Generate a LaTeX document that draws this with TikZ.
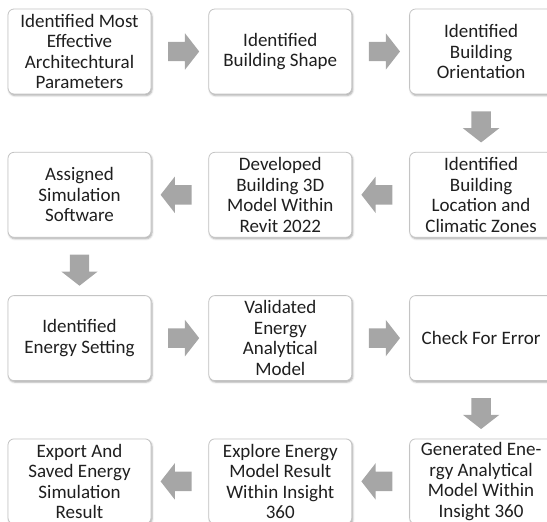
\documentclass[tikz,border=0pt]{standalone}
\usepackage{fontspec}
\setmainfont{Carlito}
\usetikzlibrary{positioning,calc,shapes.arrows,shadows.blur}
\definecolor{boxline}{HTML}{C4C4C4}
\definecolor{arrowgray}{HTML}{A6A6A6}
\definecolor{txt}{HTML}{1F1F1F}

\begin{document}
\begin{tikzpicture}[font=\fontsize{19}{20.6}\selectfont,
  stepbox/.style={draw=boxline,fill=white,rounded corners=6pt,align=center,text=txt,
    minimum width=143pt,minimum height=85pt,inner xsep=2pt,inner ysep=0pt,line width=0.8pt,
    blur shadow={shadow xshift=1pt,shadow yshift=-1.5pt,shadow opacity=35}},
  blk/.style={single arrow,fill=arrowgray,draw=none,inner xsep=0pt,inner ysep=9.5pt,
    minimum height=31pt,single arrow head extend=8.5pt,single arrow tip angle=104}]
\useasboundingbox (0,0) rectangle (547pt,-522pt);
% row 1
\node[stepbox] (a1) at (79.5pt,-51.5pt) {Identified Most\\Effective\\Architechtural\\Parameters};
\node[stepbox,right=57pt of a1] (a2) {Identified\\Building Shape};
\node[stepbox,right=57pt of a2] (a3) {Identified\\Building\\Orientation};
% row 2
\node[stepbox,below=57.5pt of a3] (b3) {Identified\\Building\\Location and\\Climatic Zones};
\node[stepbox,left=57pt of b3] (b2) {Developed\\Building 3D\\Model Within\\Revit 2022};
\node[stepbox,left=57pt of b2] (b1) {Assigned\\Simulation\\Software};
% row 3
\node[stepbox,below=57.5pt of b1] (c1) {Identified\\Energy Setting};
\node[stepbox,right=57pt of c1] (c2) {Validated\\Energy\\Analytical\\Model};
\node[stepbox,right=57pt of c2] (c3) {Check For Error};
% row 4
\node[stepbox,below=57.5pt of c3] (d3) {Generated Ene-\\rgy Analytical\\Model Within\\Insight 360};
\node[stepbox,left=57pt of d3] (d2) {Explore Energy\\Model Result\\Within Insight\\360};
\node[stepbox,left=57pt of d2] (d1) {Export And\\Saved Energy\\Simulation\\Result};
% block arrows
\node[blk] at ($(a1)!0.5!(a2)$) {};
\node[blk] at ($(a2)!0.5!(a3)$) {};
\node[blk,rotate=-90] at ($(a3)!0.5!(b3)$) {};
\node[blk,rotate=180] at ($(b3)!0.5!(b2)$) {};
\node[blk,rotate=180] at ($(b2)!0.5!(b1)$) {};
\node[blk,rotate=-90] at ($(b1)!0.5!(c1)$) {};
\node[blk] at ($(c1)!0.5!(c2)$) {};
\node[blk] at ($(c2)!0.5!(c3)$) {};
\node[blk,rotate=-90] at ($(c3)!0.5!(d3)$) {};
\node[blk,rotate=180] at ($(d3)!0.5!(d2)$) {};
\node[blk,rotate=180] at ($(d2)!0.5!(d1)$) {};
\end{tikzpicture}
\end{document}
